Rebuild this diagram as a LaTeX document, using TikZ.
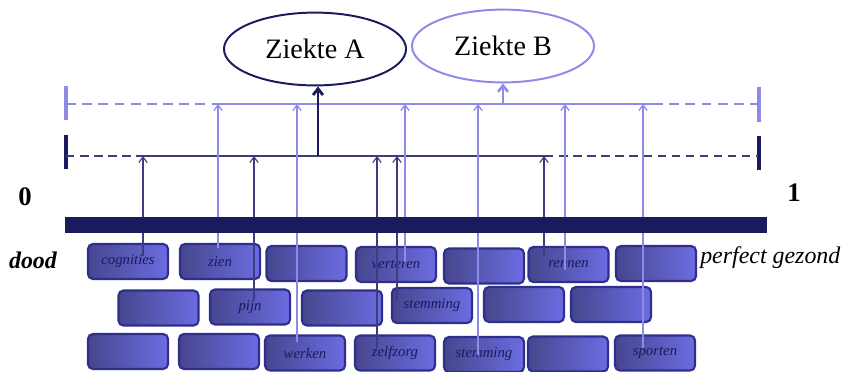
\documentclass[tikz,border=0pt]{standalone}
\usepackage{fontspec}
\setmainfont{Liberation Serif}
\usetikzlibrary{arrows.meta, shapes.geometric, calc}
\definecolor{zknavy}{HTML}{1A1A5E}
\definecolor{zkdark}{HTML}{3C3C7E}
\definecolor{zklight}{HTML}{8C8CE6}
\definecolor{zkrim}{HTML}{2E2E8C}
\definecolor{zkleft}{HTML}{46468E}
\definecolor{zkright}{HTML}{6C6CE2}

\begin{document}
\begin{tikzpicture}[x=0.025cm, y=-0.025cm,
  every node/.style={inner sep=0pt},
  disease/.style={ellipse, draw=#1, line width=1.4pt, minimum width=4.55cm, minimum height=1.82cm, font=\fontsize{20}{24}\selectfont},
  brick/.style={rectangle, rounded corners=3.5pt, draw=zkrim, line width=1.5pt, left color=zkleft, right color=zkright, minimum width=2cm, minimum height=0.875cm, font=\fontsize{10.5}{12}\selectfont\itshape, text=zknavy},
  lowtick/.style={zknavy, line width=2.2pt},
  hightick/.style={zklight, line width=2.2pt},
  lowedge/.style={-{Straight Barb[length=4pt, width=6pt]}, zkdark, line width=0.8pt},
  highedge/.style={-{Straight Barb[length=4pt, width=6pt]}, zklight, line width=0.9pt},
  bigedge/.style={-{Straight Barb[length=4.5pt, width=7pt]}, line width=#1},
]
\useasboundingbox (0,0) rectangle (846,371);

% Diseases
\node[disease=zknavy] (A) at (315,49) {Ziekte A};
\node[disease=zklight] (B) at (503,46) {Ziekte B};

% Scales
\coordinate (hi) at (0,104);
\coordinate (lo) at (0,156);
\draw[hightick] (66,86) -- (66,120);
\draw[hightick] (759,87) -- (759,122);
\draw[lowtick] (66,135) -- (66,169);
\draw[lowtick] (759,136) -- (759,170);
\draw[zklight, line width=1pt, dash pattern=on 7pt off 4.5pt] (66,104) -- (218,104);
\draw[zklight, line width=1pt] (218,104) -- (653,104);
\draw[zklight, line width=1pt, dash pattern=on 7pt off 4.5pt] (653,104) -- (758,104);
\draw[zkdark, line width=1.2pt, dash pattern=on 6pt off 4pt] (66,156) -- (143,156);
\draw[zkdark, line width=1.2pt] (143,156) -- (545,156);
\draw[zkdark, line width=1.2pt, dash pattern=on 6pt off 4pt] (545,156) -- (758,156);

% Scale labels
\node[font=\fontsize{19}{22}\selectfont\bfseries] (zero) at (25,197) {0};
\node[font=\fontsize{19}{22}\selectfont\bfseries] (one) at (794,193) {1};
\node[font=\fontsize{17}{20}\selectfont\bfseries\itshape] (dood) at (33,260) {dood};
\node[font=\fontsize{17}{20}\selectfont\itshape, anchor=west] (gezond) at (700,258) {perfect gezond};

% Bricks, first row
\node[brick] (cog) at (128,261.5) {cognities};
\node[brick] (zien) at (220,261.5) {zien};
\node[brick] (r1c) at (306.5,263.5) {};
\node[brick] (vert) at (396,264.5) {verteren};
\node[brick] (r1e) at (484,266) {};
\node[brick] (renn) at (568.5,264.5) {rennen};
\node[brick] (r1g) at (656,263.5) {};

% Bricks, second row
\node[brick] (r2a) at (158.5,308) {};
\node[brick] (pijn) at (250,307) {pijn};
\node[brick] (r2c) at (342,308) {};
\node[brick] (stemA) at (432,305.5) {stemming};
\node[brick] (r2e) at (524,304.5) {};
\node[brick] (r2f) at (611,304.5) {};

% Bricks, third row
\node[brick] (r3a) at (128,351.5) {};
\node[brick] (r3b) at (219,351.5) {};
\node[brick] (werk) at (305,353) {werken};
\node[brick] (zelf) at (395,353) {zelfzorg};
\node[brick] (stemB) at (484,354.5) {stemming};
\node[brick] (r3f) at (568,354) {};
\node[brick] (sport) at (655,353) {sporten};

% Feeds into Ziekte A
\coordinate (pa1) at (143,256);
\coordinate (pa2) at (254,300);
\coordinate (pa3) at (377,348);
\coordinate (pa4) at (397,300);
\coordinate (pa5) at (544,256);
\foreach \p in {pa1,pa2,pa3,pa4,pa5}
  \draw[lowedge] (\p) -- (\p |- lo);

% Feeds into Ziekte B
\coordinate (pb1) at (218,248);
\coordinate (pb2) at (297,342);
\coordinate (pb3) at (405,262);
\coordinate (pb4) at (478,355);
\coordinate (pb5) at (565,270);
\coordinate (pb6) at (643,348);
\foreach \p in {pb1,pb2,pb3,pb4,pb5,pb6}
  \draw[highedge] (\p) -- (\p |- hi);

% Sum arrows
\coordinate (sa) at (318,156);
\coordinate (sb) at (503,104);
\draw[bigedge=2pt, zknavy] (sa) -- (sa |- A.south);
\draw[bigedge=1.8pt, zklight] (sb) -- (sb |- B.south);

% Bar
\fill[zknavy] (65,217) rectangle (767,233);

\end{tikzpicture}
\end{document}
